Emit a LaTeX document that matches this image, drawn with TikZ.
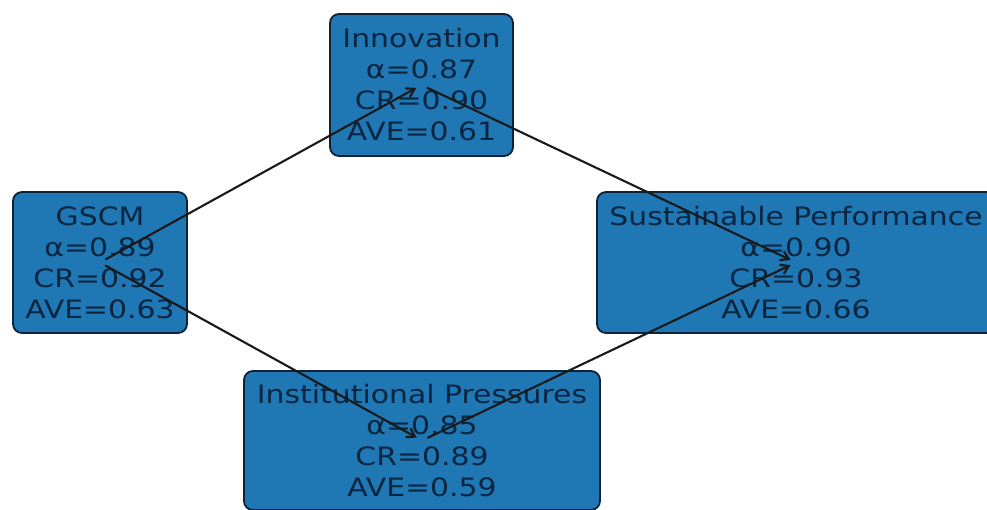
\documentclass[tikz,border=0pt]{standalone}
\usepackage{fontspec}
\setmainfont{DejaVu Sans}[FakeStretch=1.18]
\usetikzlibrary{arrows.meta}
\definecolor{boxblue}{HTML}{1F77B4}
\definecolor{boxedge}{HTML}{0B2238}
\definecolor{txt}{HTML}{0A2540}
\begin{document}
\begin{tikzpicture}[x=1bp,y=-1bp,
  box/.style={draw=boxedge, line width=1.8bp, fill=boxblue, rounded corners=9bp,
    text=txt, font=\fontsize{25.3bp}{31bp}\selectfont, align=center, inner sep=0pt},
  arr/.style={draw=black!90, line width=2.1bp, shorten <=6bp, shorten >=6bp,
    -{Straight Barb[length=8bp,width=10bp]}}]
\useasboundingbox (0,0) rectangle (987,510);
\clip (0,0) rectangle (987,510);
\node[box, minimum width=174bp, minimum height=141bp] (gscm) at (100,262.5)
  {GSCM\\α=0.89\\CR=0.92\\AVE=0.63};
\node[box, minimum width=183bp, minimum height=142bp] (innov) at (421.5,85)
  {Innovation\\α=0.87\\CR=0.90\\AVE=0.61};
\node[box, minimum width=398bp, minimum height=141bp] (sp) at (796,262.5)
  {Sustainable Performance\\α=0.90\\CR=0.93\\AVE=0.66};
\node[box, minimum width=356bp, minimum height=139bp] (ip) at (422,440.5)
  {Institutional Pressures\\α=0.85\\CR=0.89\\AVE=0.59};
\draw[arr] (gscm.center) -- (innov.center);
\draw[arr] (gscm.center) -- (ip.center);
\draw[arr] (innov.center) -- (sp.center);
\draw[arr] (ip.center) -- (sp.center);
\end{tikzpicture}
\end{document}
